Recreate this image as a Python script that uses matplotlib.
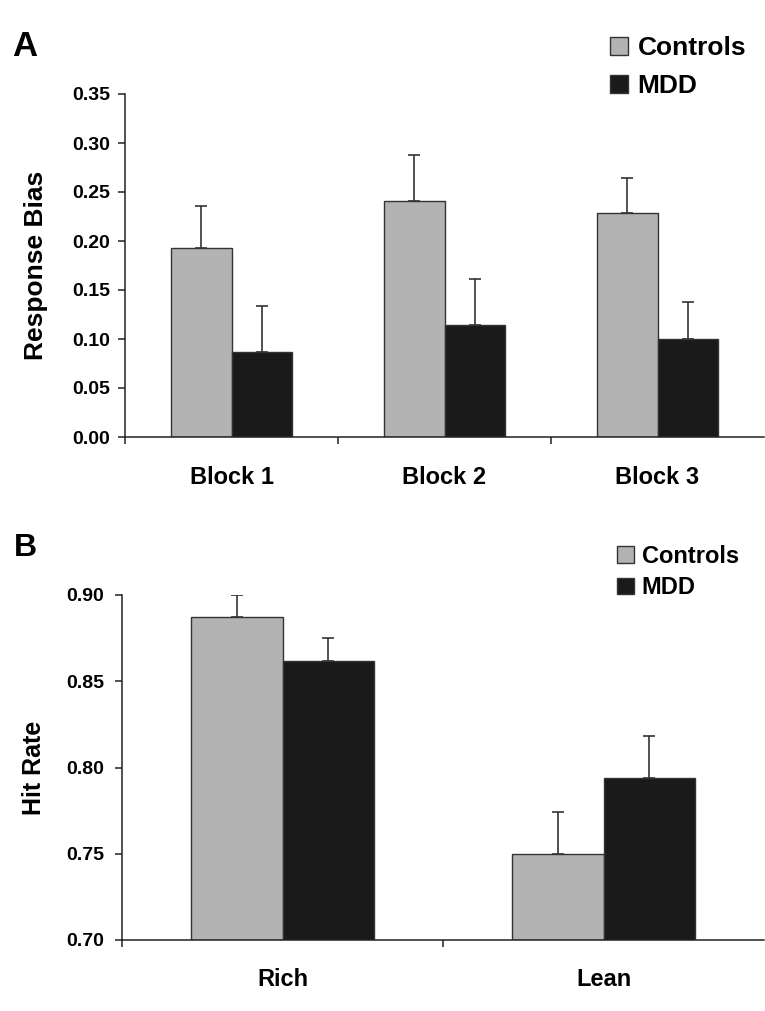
import matplotlib
matplotlib.use("Agg")
import matplotlib.pyplot as plt
import numpy as np
from matplotlib.patches import Patch

plt.rcParams['font.family'] = ['Liberation Sans', 'DejaVu Sans']
plt.rcParams['font.weight'] = 'bold'

# Panel A data
blocks = ["Block 1", "Block 2", "Block 3"]
bias_controls = [0.193, 0.241, 0.229]
bias_controls_err = [0.043, 0.047, 0.035]
bias_mdd = [0.087, 0.114, 0.100]
bias_mdd_err = [0.047, 0.047, 0.038]

# Panel B data
conditions = ["Rich", "Lean"]
hit_controls = [0.887, 0.750]
hit_controls_err = [0.013, 0.024]
hit_mdd = [0.862, 0.794]
hit_mdd_err = [0.013, 0.024]

series_names = ["Controls", "MDD"]
gray = "#b3b3b3"
black = "#1a1a1a"
edge = "#333333"
axis_col = "#222222"

W, H = 765, 1011
fig = plt.figure(figsize=(W / 100, H / 100), dpi=100)


def px_axes(left, top, right, bottom):
    return fig.add_axes([left / W, 1 - bottom / H, (right - left) / W, (bottom - top) / H])


def style_axes(ax, ncat, ypad, xpad):
    for s in ("top", "right"):
        ax.spines[s].set_visible(False)
    for s in ("left", "bottom"):
        ax.spines[s].set_color(axis_col)
        ax.spines[s].set_linewidth(1.1)
    ax.set_xlim(-0.5, ncat - 0.5)
    ax.set_xticks(np.arange(ncat))
    ax.set_xticks(np.arange(ncat) - 0.5, minor=True)
    ax.tick_params(axis="x", which="major", length=0, pad=xpad, labelsize=17)
    ax.tick_params(axis="x", which="minor", length=5, width=1.1, color=axis_col, direction="out")
    ax.tick_params(axis="y", length=5, width=1.1, color=axis_col, direction="out", pad=ypad, labelsize=14)
    for lab in ax.get_xticklabels() + ax.get_yticklabels():
        lab.set_fontweight("bold")


def draw_bars(ax, cats, c_vals, c_err, m_vals, m_err, base):
    x = np.arange(len(cats))
    w = 0.285
    ekw = dict(ecolor=edge, elinewidth=1.2, capsize=4, capthick=1.2)
    ax.bar(x - w / 2, np.array(c_vals) - base, w, bottom=base, color=gray, edgecolor=edge, linewidth=1.0,
           yerr=[np.zeros(len(cats)), c_err], error_kw=ekw, label=series_names[0], zorder=2)
    ax.bar(x + w / 2, np.array(m_vals) - base, w, bottom=base, color=black, edgecolor=edge, linewidth=1.0,
           yerr=[np.zeros(len(cats)), m_err], error_kw=ekw, label=series_names[1], zorder=2)
    ax.set_xticklabels(cats)


# Panel A
axA = px_axes(125, 94, 764, 437)
draw_bars(axA, blocks, bias_controls, bias_controls_err, bias_mdd, bias_mdd_err, 0.0)
axA.set_ylim(0, 0.35)
axA.set_yticks(np.arange(0, 0.351, 0.05))
axA.set_yticklabels([f"{v:.2f}" for v in np.arange(0, 0.351, 0.05)])
style_axes(axA, 3, 5.5, 21)
axA.set_ylabel("Response Bias", fontsize=19, fontweight="bold")
axA.yaxis.set_label_coords((48 - 125) / 639, 0.5)

# Panel B
axB = px_axes(122, 595, 764, 940)
draw_bars(axB, conditions, hit_controls, hit_controls_err, hit_mdd, hit_mdd_err, 0.70)
axB.set_ylim(0.70, 0.90)
axB.set_yticks(np.arange(0.70, 0.901, 0.05))
axB.set_yticklabels([f"{v:.2f}" for v in np.arange(0.70, 0.901, 0.05)])
style_axes(axB, 2, 8, 20)
axB.set_ylabel("Hit Rate", fontsize=18, fontweight="bold")
axB.yaxis.set_label_coords((46 - 122) / 642, 0.5)

# Legends
def make_legend(x, y, fs, spacing):
    handles = [Patch(facecolor=gray, edgecolor=edge, linewidth=1.0),
               Patch(facecolor=black, edgecolor=edge, linewidth=1.0)]
    leg = fig.legend(handles, series_names, loc="upper left", bbox_to_anchor=(x / W, 1 - y / H),
                     frameon=False, borderpad=0, borderaxespad=0, handlelength=0.7, handleheight=0.7,
                     handletextpad=0.35, labelspacing=spacing, prop=dict(size=fs, weight="bold"))
    return leg

make_legend(610, 36, 19, 0.53)
make_legend(617, 545, 17, 0.35)

# Panel letters
fig.text(12 / W, 1 - 30 / H, "A", fontsize=25, fontweight="bold", va="top", ha="left")
fig.text(14 / W, 1 - 533 / H, "B", fontsize=23, fontweight="bold", va="top", ha="left")

fig.savefig("out.png", dpi=100)
